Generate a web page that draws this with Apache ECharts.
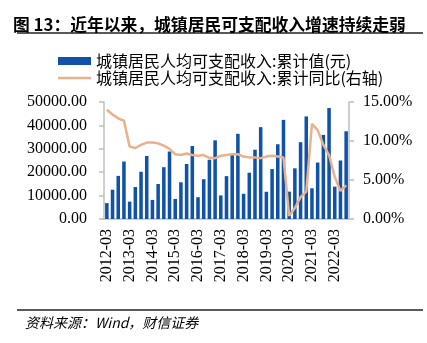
<!DOCTYPE html>
<html><head><meta charset="utf-8">
<script src="https://cdn.jsdelivr.net/npm/echarts@6/dist/echarts.min.js"></script>
<style>html,body{margin:0;padding:0;background:#fff}#c{width:427px;height:343px}</style>
</head><body><div id="c"></div>
<script>
const categories = [
  '2012-03','2012-06','2012-09','2012-12',
  '2013-03','2013-06','2013-09','2013-12',
  '2014-03','2014-06','2014-09','2014-12',
  '2015-03','2015-06','2015-09','2015-12',
  '2016-03','2016-06','2016-09','2016-12',
  '2017-03','2017-06','2017-09','2017-12',
  '2018-03','2018-06','2018-09','2018-12',
  '2019-03','2019-06','2019-09','2019-12',
  '2020-03','2020-06','2020-09','2020-12',
  '2021-03','2021-06','2021-09','2021-12',
  '2022-03','2022-06','2022-09'
];
const incomeValues = [
  6796, 12509, 18427, 24565,
  7427, 13649, 20169, 26955,
  8155, 14959, 22143, 28844,
  8572, 15699, 23512, 31195,
  9314, 17002, 25337, 33616,
  10064, 18322, 27430, 36396,
  10781, 19770, 29599, 39251,
  11633, 21342, 31939, 42359,
  11691, 21655, 32821, 43834,
  13120, 24125, 35946, 47412,
  13832, 25003, 37482
];
const growthValues = [
  14.0, 13.4, 12.9, 12.6,
  9.3, 9.1, 9.5, 9.8,
  9.8, 9.7, 9.4, 9.0,
  8.3, 8.2, 8.4, 8.2,
  8.1, 8.2, 7.85, 7.8,
  8.1, 8.2, 8.3, 8.3,
  8.0, 7.9, 7.9, 7.8,
  8.0, 8.1, 8.0, 7.9,
  0.4, 1.4, 2.8, 3.5,
  12.2, 11.4, 9.5, 8.2,
  5.4, 3.6, 4.3
];
const barName = '城镇居民人均可支配收入:累计值(元)';
const lineName = '城镇居民人均可支配收入:累计同比(右轴)';
const titleText = '图 13：近年以来，城镇居民可支配收入增速持续走弱';
const sourceText = '资料来源：Wind，财信证券';

const serif = '"Liberation Serif","Times New Roman",serif';
const cjk = '"Noto Sans CJK SC","Noto Sans",sans-serif';
const axisGray = '#bfbfbf';
const legendText = {fontFamily: cjk, fontSize: 16, color: '#000'};

const chart = echarts.init(document.getElementById('c'));
chart.setOption({
  animation: false,
  backgroundColor: '#fff',
  title: {
    text: titleText, left: 8, top: 11,
    textStyle: {fontFamily: cjk, fontWeight: 'bold', fontSize: 16.8, color: '#000'}
  },
  graphic: [
    {type: 'line', shape: {x1: 17, y1: 33, x2: 423, y2: 33}, style: {stroke: '#222', lineWidth: 1.5}},
    {type: 'line', shape: {x1: 17, y1: 310, x2: 423, y2: 310}, style: {stroke: '#222', lineWidth: 1.5}},
    {type: 'text', left: 25, top: 316, style: {text: sourceText, font: 'italic 14px ' + cjk, fill: '#000'}}
  ],
  legend: [
    {data: [{name: barName, icon: 'rect', textStyle: legendText}], left: 53, top: 48, itemWidth: 33, itemHeight: 8,
     textStyle: legendText},
    {data: [{name: lineName, icon: 'rect', textStyle: legendText}], left: 53, top: 65, itemWidth: 33, itemHeight: 2.5,
     textStyle: legendText}
  ],
  grid: {left: 104, right: 78, top: 102, bottom: 124},
  xAxis: {
    type: 'category', data: categories, boundaryGap: true,
    axisLine: {lineStyle: {color: axisGray, width: 1.5}},
    axisTick: {interval: 3, length: 5, lineStyle: {color: axisGray, width: 1.5}},
    axisLabel: {interval: 3, rotate: 90, margin: 10, fontFamily: serif, fontSize: 16, color: '#000'}
  },
  yAxis: [
    {type: 'value', min: 0, max: 50000, interval: 10000,
     axisLine: {show: true, lineStyle: {color: axisGray, width: 1.5}},
     axisTick: {show: true, length: 5, lineStyle: {color: axisGray, width: 1.5}},
     splitLine: {show: false},
     axisLabel: {formatter: v => v.toFixed(2), margin: 17, fontFamily: serif, fontSize: 16, color: '#000'}},
    {type: 'value', min: 0, max: 15, interval: 5, position: 'right',
     axisLine: {show: true, lineStyle: {color: axisGray, width: 1.5}},
     axisTick: {show: true, length: 5, lineStyle: {color: axisGray, width: 1.5}},
     splitLine: {show: false},
     axisLabel: {formatter: v => v.toFixed(2) + '%', margin: 14, fontFamily: serif, fontSize: 16, color: '#000'}}
  ],
  series: [
    {name: barName, type: 'bar', data: incomeValues, barWidth: '62%', itemStyle: {color: '#0F52A8'}},
    {name: lineName, type: 'line', yAxisIndex: 1, data: growthValues, symbol: 'none',
     lineStyle: {color: '#E8B28C', width: 2.5}, itemStyle: {color: '#E8B28C'}}
  ]
});
</script>
</body></html>
